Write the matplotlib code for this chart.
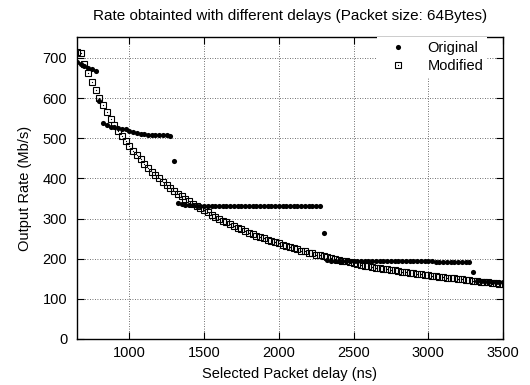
import numpy as np
import matplotlib
matplotlib.use("Agg")
import matplotlib.pyplot as plt
from matplotlib.legend_handler import HandlerTuple

plt.rcParams['font.family'] = ['Liberation Sans', 'DejaVu Sans']

# packet delay (ns), one sample every 25 ns
delay = list(range(650, 3501, 25))

original = [689, 684, 680, 676, 672, 667, 593, 539, 532, 529,
            527, 526, 524, 522, 519, 515, 513, 511, 510, 509,
            509, 508, 508, 507, 507, 506, 444, 339, 335, 334,
            333, 333, 332, 332, 332, 332, 332, 332, 332, 332,
            332, 332, 332, 332, 332, 332, 331, 331, 331, 331,
            331, 331, 331, 331, 331, 331, 331, 331, 331, 331,
            331, 331, 331, 331, 331, 331, 265, 196, 194, 193,
            193, 193, 193, 193, 193, 193, 193, 193, 193, 193,
            193, 193, 193, 193, 193, 193, 193, 193, 193, 193,
            193, 193, 193, 193, 193, 193, 192, 192, 192, 192,
            192, 192, 192, 192, 192, 192, 167, 145, 144, 144,
            143, 143, 143, 143, 143]

modified = [714, 711, 686, 662, 640, 619, 600, 582, 565, 549,
            533, 519, 505, 492, 480, 468, 457, 447, 436, 427,
            417, 409, 400, 392, 384, 376, 369, 362, 356, 349,
            343, 337, 331, 325, 320, 315, 310, 305, 300, 295,
            291, 286, 281, 277, 273, 269, 265, 261, 257, 254,
            251, 247, 244, 241, 238, 235, 232, 229, 226, 223,
            220, 218, 215, 213, 210, 208, 206, 203, 201, 199,
            197, 195, 193, 191, 189, 187, 185, 183, 182, 180,
            178, 177, 175, 174, 172, 171, 169, 168, 167, 165,
            164, 163, 161, 160, 159, 158, 156, 155, 154, 153,
            152, 151, 150, 149, 148, 147, 145, 144, 143, 142,
            141, 140, 139, 138, 137]

fig = plt.figure(figsize=(5.3, 3.85), dpi=100)
ax = fig.add_axes([77/530, 1-339/385, 426/530, 302/385])

fs = 10.5
ax.plot(delay, original, 'o', color='black', markersize=3.7, mew=0, zorder=3)
ax.plot(delay, modified, 's', mfc='none', mec='black', markersize=4.6, mew=0.8, zorder=4)
ax.plot(delay, modified, 'o', color='black', markersize=0.9, mew=0, zorder=4)

ax.set_xlim(650, 3500)
ax.set_ylim(0, 752)
ax.set_xticks([1000, 1500, 2000, 2500, 3000, 3500])
ax.set_yticks([0, 100, 200, 300, 400, 500, 600, 700])
ax.tick_params(direction='in', top=True, right=True, length=5, width=0.8,
               labelsize=fs, colors='black')
ax.tick_params(axis='x', pad=5)
ax.tick_params(axis='y', pad=7)
ax.grid(True, color='0.25', linestyle=(0, (1, 2)), linewidth=0.6)
for s in ax.spines.values():
    s.set_linewidth(1.0)

ax.set_title('Rate obtainted with different delays (Packet size: 64Bytes)', fontsize=11, pad=12)
ax.set_xlabel('Selected Packet delay (ns)', fontsize=fs, labelpad=5)
ax.set_ylabel('Output Rate (Mb/s)', fontsize=fs, labelpad=8)

h1, = ax.plot([], [], 'o', color='black', markersize=3.7, mew=0)
h2a, = ax.plot([], [], 's', mfc='none', mec='black', markersize=4.6, mew=0.8)
h2b, = ax.plot([], [], 'o', color='black', markersize=0.9, mew=0)
leg = ax.legend([h1, (h2a, h2b)], ['Original', 'Modified'],
                handler_map={tuple: HandlerTuple(ndivide=1)},
                loc='upper right', bbox_to_anchor=(0.962, 1.0), fontsize=fs,
                frameon=True, fancybox=False, framealpha=1, edgecolor='none',
                facecolor='white', handlelength=2.4, handletextpad=0.8,
                labelspacing=0.32, borderpad=0.25, borderaxespad=0.0)
leg.set_zorder(5)

fig.savefig('out.png', dpi=100)
